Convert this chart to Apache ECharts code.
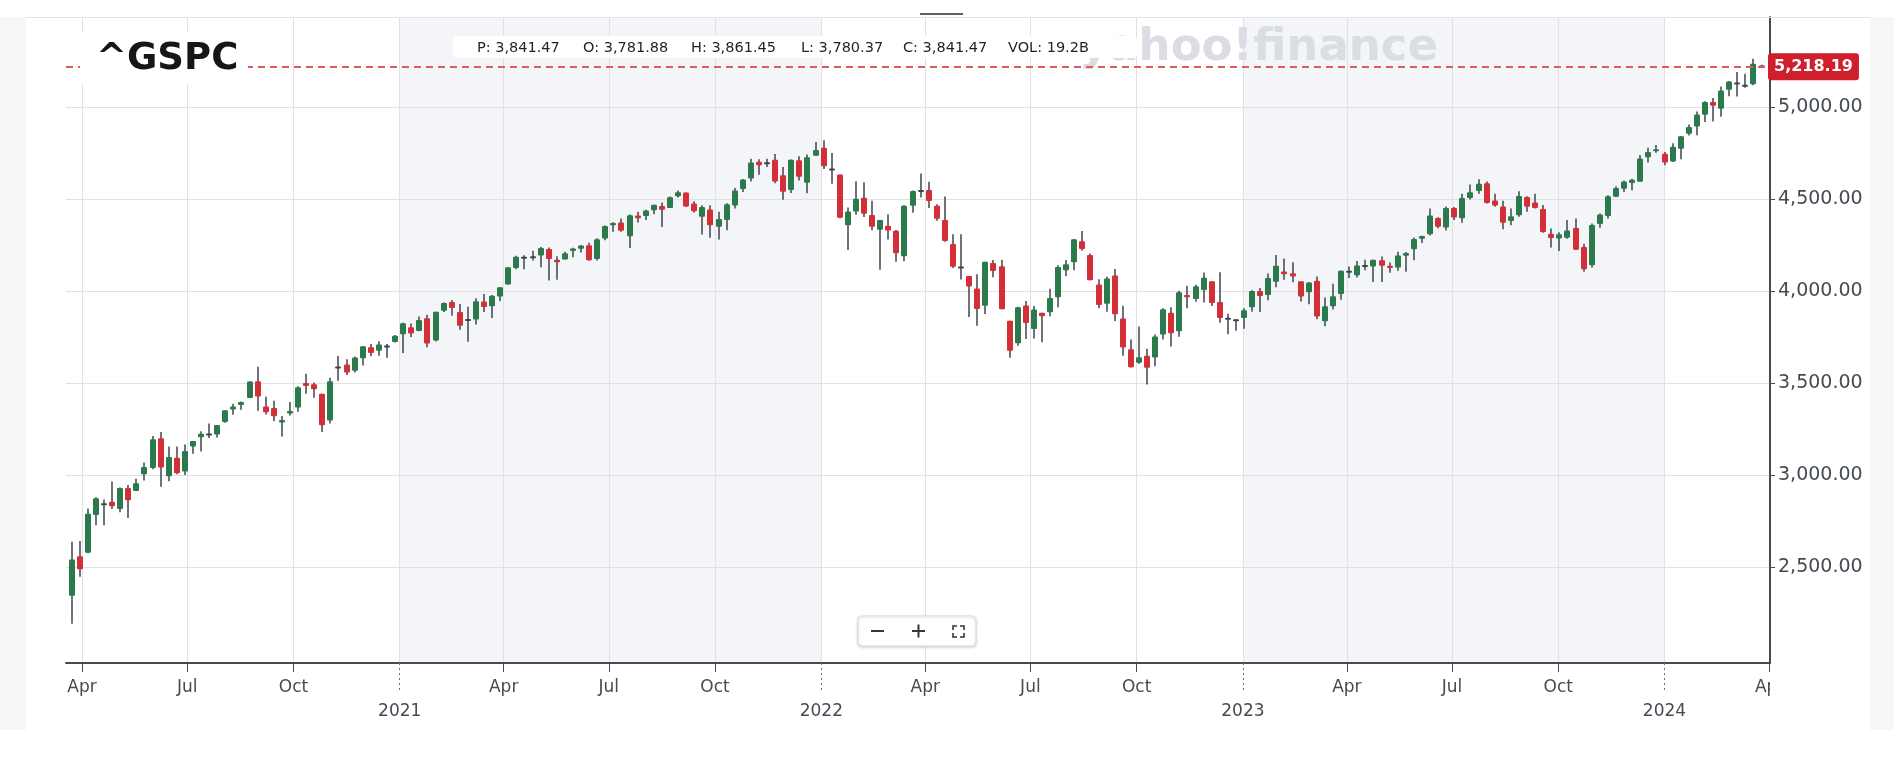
<!DOCTYPE html>
<html>
<head>
<meta charset="utf-8">
<script src="https://cdn.jsdelivr.net/npm/echarts@6/dist/echarts.min.js"></script>
<style>
html,body{margin:0;padding:0;background:#ffffff;}
#chart{width:1894px;height:758px;}
</style>
</head>
<body>
<div id="chart"></div>
<script>
// ---------- DATA (weekly ^GSPC candles, week start dates) ----------
const weeks = [
 '2020-03-23','2020-03-30','2020-04-06','2020-04-13','2020-04-20','2020-04-27','2020-05-04','2020-05-11','2020-05-18','2020-05-25',
 '2020-06-01','2020-06-08','2020-06-15','2020-06-22','2020-06-29','2020-07-06','2020-07-13','2020-07-20','2020-07-27','2020-08-03',
 '2020-08-10','2020-08-17','2020-08-24','2020-08-31','2020-09-07','2020-09-14','2020-09-21','2020-09-28','2020-10-05','2020-10-12',
 '2020-10-19','2020-10-26','2020-11-02','2020-11-09','2020-11-16','2020-11-23','2020-11-30','2020-12-07','2020-12-14','2020-12-21',
 '2020-12-28',
 '2021-01-04','2021-01-11','2021-01-18','2021-01-25','2021-02-01','2021-02-08','2021-02-15','2021-02-22','2021-03-01','2021-03-08',
 '2021-03-15','2021-03-22','2021-03-29','2021-04-05','2021-04-12','2021-04-19','2021-04-26','2021-05-03','2021-05-10','2021-05-17',
 '2021-05-24','2021-05-31','2021-06-07','2021-06-14','2021-06-21','2021-06-28','2021-07-05','2021-07-12','2021-07-19','2021-07-26',
 '2021-08-02','2021-08-09','2021-08-16','2021-08-23','2021-08-30','2021-09-06','2021-09-13','2021-09-20','2021-09-27','2021-10-04',
 '2021-10-11','2021-10-18','2021-10-25','2021-11-01','2021-11-08','2021-11-15','2021-11-22','2021-11-29','2021-12-06','2021-12-13',
 '2021-12-20','2021-12-27',
 '2022-01-03','2022-01-10','2022-01-17','2022-01-24','2022-01-31','2022-02-07','2022-02-14','2022-02-21','2022-02-28','2022-03-07',
 '2022-03-14','2022-03-21','2022-03-28','2022-04-04','2022-04-11','2022-04-18','2022-04-25','2022-05-02','2022-05-09','2022-05-16',
 '2022-05-23','2022-05-30','2022-06-06','2022-06-13','2022-06-20','2022-06-27','2022-07-04','2022-07-11','2022-07-18','2022-07-25',
 '2022-08-01','2022-08-08','2022-08-15','2022-08-22','2022-08-29','2022-09-05','2022-09-12','2022-09-19','2022-09-26','2022-10-03',
 '2022-10-10','2022-10-17','2022-10-24','2022-10-31','2022-11-07','2022-11-14','2022-11-21','2022-11-28','2022-12-05','2022-12-12',
 '2022-12-19','2022-12-26',
 '2023-01-02','2023-01-09','2023-01-16','2023-01-23','2023-01-30','2023-02-06','2023-02-13','2023-02-20','2023-02-27','2023-03-06',
 '2023-03-13','2023-03-20','2023-03-27','2023-04-03','2023-04-10','2023-04-17','2023-04-24','2023-05-01','2023-05-08','2023-05-15',
 '2023-05-22','2023-05-29','2023-06-05','2023-06-12','2023-06-19','2023-06-26','2023-07-03','2023-07-10','2023-07-17','2023-07-24',
 '2023-07-31','2023-08-07','2023-08-14','2023-08-21','2023-08-28','2023-09-04','2023-09-11','2023-09-18','2023-09-25','2023-10-02',
 '2023-10-09','2023-10-16','2023-10-23','2023-10-30','2023-11-06','2023-11-13','2023-11-20','2023-11-27','2023-12-04','2023-12-11',
 '2023-12-18','2023-12-25',
 '2024-01-01','2024-01-08','2024-01-15','2024-01-22','2024-01-29','2024-02-05','2024-02-12','2024-02-19','2024-02-26','2024-03-04',
 '2024-03-11','2024-03-18','2024-03-25'
];
const opens = [
 2344.44,2558.98,2578.28,2782.46,2845.62,2854.65,2815.01,2930.19,2913.86,3004.08,
 3038.78,3199.92,2993.76,3094.42,3018.59,3155.29,3205.08,3224.29,3219.84,3288.26,
 3356.04,3380.86,3418.09,3509.73,3371.88,3363.56,3285.57,3333.90,3367.27,3500.02,
 3493.50,3441.42,3296.20,3583.04,3600.16,3566.82,3634.18,3694.73,3675.27,3694.03,
 3723.03,
 3764.61,3803.14,3781.88,3851.68,3731.17,3892.59,3939.61,3885.55,3842.51,3844.39,
 3942.96,3916.48,3969.31,4034.44,4124.71,4179.80,4185.03,4191.98,4228.29,4169.92,
 4170.16,4216.52,4229.34,4248.31,4173.40,4284.90,4356.46,4372.41,4296.40,4409.58,
 4406.86,4437.77,4461.65,4450.29,4513.76,4535.38,4474.81,4402.95,4442.12,4348.84,
 4385.44,4463.72,4553.69,4610.62,4701.48,4689.30,4712.00,4628.75,4548.37,4710.30,
 4587.90,4733.99,
 4778.14,4655.34,4632.24,4356.32,4431.79,4505.75,4412.61,4332.74,4354.17,4327.01,
 4188.82,4462.40,4541.09,4547.97,4462.64,4385.63,4255.34,4130.61,4081.27,4013.02,
 3919.42,4151.09,4134.72,3838.15,3715.31,3920.76,3792.61,3880.94,3883.79,3965.72,
 4112.38,4155.93,4269.37,4195.08,4034.58,3930.89,4083.67,3849.91,3682.72,3609.78,
 3647.51,3638.65,3764.05,3881.85,3780.71,3977.97,3956.23,4005.36,4052.02,3939.29,
 3853.79,3843.34,
 3853.29,3910.82,3999.28,3978.14,4049.27,4105.35,4096.62,4052.35,3992.36,4055.15,
 3835.12,3917.47,3982.93,4102.20,4085.20,4137.17,4132.07,4166.79,4136.98,4126.65,
 4190.78,4226.71,4282.99,4308.32,4396.11,4344.84,4450.48,4394.23,4505.30,4543.39,
 4584.82,4491.58,4458.13,4380.28,4411.55,4510.06,4480.98,4445.41,4310.62,4284.52,
 4289.02,4342.37,4238.72,4139.39,4364.27,4406.66,4511.70,4554.86,4586.23,4593.39,
 4725.58,4758.86,
 4745.20,4703.70,4772.35,4853.42,4892.95,4957.19,5026.83,4989.32,5093.00,5130.99,
 5111.96,5123.31,5219.52
];
const highs = [
 2637.01,2641.39,2818.57,2879.22,2867.01,2964.42,2932.16,2945.82,2980.29,3068.67,
 3211.72,3233.13,3155.53,3155.53,3165.81,3184.15,3238.28,3279.32,3272.17,3352.54,
 3387.89,3399.96,3509.23,3588.11,3425.55,3402.93,3320.31,3397.18,3482.34,3549.85,
 3502.42,3441.42,3529.05,3645.99,3628.51,3644.31,3699.20,3712.39,3726.70,3711.24,
 3760.20,
 3826.69,3823.60,3861.45,3870.90,3886.83,3937.23,3950.43,3928.65,3914.50,3960.27,
 3983.87,3978.19,4020.63,4129.48,4191.31,4194.17,4218.78,4238.04,4236.39,4188.72,
 4213.42,4233.93,4249.74,4261.66,4286.12,4355.43,4372.87,4393.68,4415.18,4429.97,
 4440.82,4468.00,4480.26,4513.33,4545.85,4535.38,4486.87,4465.40,4465.40,4429.97,
 4475.82,4559.67,4608.08,4718.50,4714.92,4717.75,4743.83,4672.95,4713.57,4731.99,
 4740.74,4808.93,
 4818.62,4748.83,4632.24,4453.23,4595.31,4590.03,4489.55,4385.34,4416.78,4331.17,
 4465.40,4546.03,4637.30,4593.45,4471.00,4512.94,4308.45,4307.66,4081.27,4090.72,
 4158.49,4168.34,4168.78,3838.15,3913.65,3945.86,3918.50,3880.94,4012.44,4140.15,
 4167.66,4280.47,4325.28,4203.04,4062.99,4076.81,4119.28,3920.00,3736.74,3806.91,
 3685.41,3762.79,3905.42,3911.79,4001.48,4028.84,4034.02,4100.51,4052.45,4100.96,
 3876.00,3846.65,
 3906.00,4003.95,4015.39,4094.21,4195.44,4176.54,4156.00,4052.35,4048.00,4078.49,
 3964.46,4039.49,4110.75,4133.13,4163.19,4169.48,4170.06,4186.92,4154.28,4212.91,
 4212.00,4290.67,4299.50,4448.47,4400.15,4458.48,4456.46,4527.76,4578.43,4607.07,
 4594.22,4527.37,4490.33,4447.21,4541.25,4514.29,4527.37,4466.36,4338.51,4319.00,
 4385.46,4393.57,4255.84,4365.98,4421.17,4520.12,4568.43,4599.39,4609.23,4738.57,
 4778.01,4793.30,
 4754.33,4802.40,4842.07,4903.68,4975.29,5030.06,5048.39,5111.06,5140.33,5189.26,
 5179.14,5261.10,5229.09
];
const lows = [
 2191.86,2447.49,2574.57,2727.10,2727.10,2815.00,2797.85,2766.64,2913.86,2969.75,
 3031.54,2936.87,2965.66,3004.63,3000.10,3115.66,3127.66,3200.68,3204.13,3284.53,
 3327.24,3354.69,3418.09,3349.63,3329.27,3292.40,3209.45,3323.69,3344.29,3441.42,
 3419.93,3233.94,3279.74,3511.91,3543.84,3556.69,3594.39,3645.18,3648.11,3636.48,
 3720.14,
 3662.71,3749.62,3780.37,3694.12,3725.62,3884.94,3865.10,3789.54,3723.34,3818.04,
 3885.73,3853.50,3944.35,4034.44,4118.38,4118.38,4165.87,4128.59,4056.88,4061.41,
 4170.16,4183.12,4208.69,4164.40,4165.35,4274.67,4321.34,4321.41,4233.13,4371.75,
 4385.47,4416.17,4347.35,4450.29,4507.29,4456.43,4425.54,4305.91,4288.52,4278.94,
 4329.92,4447.47,4537.36,4595.06,4630.86,4672.78,4585.43,4495.12,4532.42,4600.22,
 4531.10,4733.99,
 4662.74,4582.24,4395.34,4222.62,4414.02,4401.41,4329.86,4114.65,4279.54,4157.87,
 4161.72,4424.30,4507.57,4450.04,4381.34,4267.62,4124.28,4062.51,3858.87,3810.32,
 3875.13,4073.85,3900.16,3636.87,3702.73,3738.67,3742.06,3721.56,3863.16,3910.74,
 4079.81,4112.09,4218.70,4057.66,3906.21,3886.75,3837.08,3647.47,3584.13,3604.17,
 3491.58,3590.83,3735.61,3698.15,3750.59,3906.54,3940.79,3937.65,3918.39,3827.28,
 3764.49,3783.22,
 3794.33,3887.60,3885.54,3949.06,4020.63,4060.79,4047.00,3943.08,3928.16,3846.32,
 3808.86,3899.00,3951.53,4069.84,4072.55,4113.00,4048.28,4048.28,4098.92,4109.00,
 4103.98,4166.15,4261.07,4301.00,4341.00,4328.08,4385.05,4371.00,4497.00,4528.56,
 4474.55,4457.92,4335.31,4356.29,4403.00,4430.00,4448.00,4316.49,4235.55,4216.45,
 4283.79,4223.03,4103.78,4127.90,4343.00,4393.00,4510.36,4537.24,4546.50,4593.39,
 4697.00,4751.00,
 4682.11,4699.82,4714.82,4844.05,4845.15,4918.09,4920.31,4946.00,5057.29,5056.82,
 5104.35,5117.50,5216.09
];
const closes = [
 2541.47,2488.65,2789.82,2874.56,2836.74,2830.71,2929.80,2863.70,2955.45,3044.31,
 3193.93,3041.31,3097.74,3009.05,3130.01,3185.04,3224.73,3215.63,3271.12,3351.28,
 3372.85,3397.16,3508.01,3426.96,3340.97,3319.47,3298.46,3348.44,3477.13,3483.81,
 3465.39,3269.96,3509.44,3585.15,3557.54,3638.35,3699.12,3663.46,3709.41,3703.06,
 3756.07,
 3824.68,3768.25,3841.47,3714.24,3886.83,3934.83,3906.71,3811.15,3841.94,3943.34,
 3913.10,3974.54,4019.87,4128.80,4185.47,4180.17,4181.17,4232.60,4173.85,4155.86,
 4204.11,4229.89,4247.44,4166.45,4280.70,4352.34,4369.55,4327.16,4411.79,4395.26,
 4436.52,4468.00,4441.67,4509.37,4535.43,4458.58,4432.99,4455.48,4357.04,4391.34,
 4471.37,4544.90,4605.38,4697.53,4682.85,4697.96,4594.62,4538.43,4712.02,4620.64,
 4725.79,4766.18,
 4677.03,4662.85,4397.94,4431.85,4500.53,4418.64,4348.87,4384.65,4328.87,4204.31,
 4463.12,4543.06,4545.86,4488.28,4392.59,4271.78,4131.93,4123.34,4023.89,3901.36,
 4158.24,4108.54,3900.86,3674.84,3911.74,3825.33,3899.38,3863.16,3961.63,4130.29,
 4145.19,4280.15,4228.48,4057.66,3924.26,4067.36,3873.33,3693.23,3585.62,3639.66,
 3583.07,3752.75,3901.06,3770.55,3992.93,3965.34,4026.12,4071.70,3934.38,3852.36,
 3844.82,3839.50,
 3895.08,3999.09,3972.61,4070.56,4136.48,4090.46,4079.09,3970.04,4045.64,3861.59,
 3916.64,3970.99,4109.31,4105.02,4137.64,4133.52,4169.48,4136.25,4124.08,4191.98,
 4205.45,4282.37,4298.86,4409.59,4348.33,4450.38,4398.95,4505.42,4536.34,4582.23,
 4478.03,4464.05,4369.71,4405.71,4515.77,4457.49,4450.32,4320.06,4288.05,4308.50,
 4327.78,4224.16,4117.37,4358.34,4415.24,4514.02,4559.34,4594.63,4604.37,4719.19,
 4754.63,4769.83,
 4697.24,4783.83,4839.81,4890.97,4958.61,5026.61,5005.57,5088.80,5137.08,5123.69,
 5117.09,5234.18,5218.19
];
const priceTicks = [2500, 3000, 3500, 4000, 4500, 5000];
const quarterTicks = ['2020-04-01','2020-07-01','2020-10-01','2021-04-01','2021-07-01','2021-10-01',
  '2022-04-01','2022-07-01','2022-10-01','2023-04-01','2023-07-01','2023-10-01','2024-04-01'];
const yearTicks = ['2021-01-01','2022-01-01','2023-01-01','2024-01-01'];
const shadedYears = [['2021-01-01','2022-01-01'], ['2023-01-01','2024-01-01']];
const lastPrice = 5218.19;
const symbolName = '^GSPC';
const infoLabels = ['P: 3,841.47', 'O: 3,781.88', 'H: 3,861.45', 'L: 3,780.37', 'C: 3,841.47', 'VOL: 19.2B'];
const xRange = ['2020-03-18T02:00:00Z', '2024-04-01T08:00:00Z'];
const yRange = [1979, 5488];

// ---------- BUILD ----------
const toTs = s => Date.parse(s.length === 10 ? s + 'T00:00:00Z' : s);
const MONTHS = ['Jan','Feb','Mar','Apr','May','Jun','Jul','Aug','Sep','Oct','Nov','Dec'];
const candleData = weeks.map((w, i) => [toTs(w), opens[i], closes[i], lows[i], highs[i]]);
const quarterTs = quarterTicks.map(toTs);
const yearTs = yearTicks.map(toTs);
const gridXs = quarterTicks.slice(0, -1).concat(yearTicks).map(toTs);
const fmtPrice = v => Number(v).toLocaleString('en-US', {minimumFractionDigits: 2, maximumFractionDigits: 2});

const GREEN = '#2a7a4b', RED = '#d42e37', WICK = '#3e444b';
const AX = '#454b52';
const FONT = 'DejaVu Sans';

function renderCandle(params, api) {
  const x = api.value(0);
  const o = api.value(1), c = api.value(2), l = api.value(3), h = api.value(4);
  const pO = api.coord([x, o]), pC = api.coord([x, c]);
  const pL = api.coord([x, l]), pH = api.coord([x, h]);
  const cx = Math.round(pO[0]);
  const top = Math.min(pO[1], pC[1]), bot = Math.max(pO[1], pC[1]);
  const bw = 6;
  const flat = bot - top < 1.8;
  return {
    type: 'group',
    children: [
      {type: 'rect', shape: {x: cx - 0.75, y: pH[1], width: 1.5, height: pL[1] - pH[1]}, style: {fill: WICK}},
      {type: 'rect',
       shape: {x: cx - bw / 2, y: flat ? (top + bot) / 2 - 1 : top, width: bw, height: flat ? 2 : bot - top, r: 1},
       style: {fill: flat ? WICK : (c >= o ? GREEN : RED)}}
    ]
  };
}

const chart = echarts.init(document.getElementById('chart'), null, {renderer: 'canvas'});

const graphics = [
  {type: 'rect', z: 0, silent: true, shape: {x: 0, y: 17, width: 26, height: 713}, style: {fill: '#f6f6f7'}},
  {type: 'rect', z: 0, silent: true, shape: {x: 1870, y: 17, width: 24, height: 713}, style: {fill: '#f6f6f7'}},
  {type: 'line', z: 10, silent: true, shape: {x1: 26, y1: 17.5, x2: 1870, y2: 17.5}, style: {stroke: '#e1e3e7', lineWidth: 1}},
  {type: 'rect', z: 10, silent: true, shape: {x: 920, y: 13, width: 43, height: 2}, style: {fill: '#5f6368'}},
  // watermark
  {type: 'text', z: 1.5, silent: true, x: 1438, y: 48,
   style: {text: 'yahoo!finance', fill: '#dadde3', fontFamily: FONT, fontWeight: 'bold', fontSize: 45, align: 'right', verticalAlign: 'middle'}},
  // symbol title
  {type: 'rect', z: 10, silent: true, shape: {x: 80, y: 32, width: 168, height: 52, r: 4}, style: {fill: '#ffffff'}},
  {type: 'text', z: 11, silent: true, x: 96, y: 59,
   style: {text: symbolName, fill: '#141618', fontFamily: FONT, fontWeight: 'bold', fontSize: 37, align: 'left', verticalAlign: 'middle'}},
  // info box
  {type: 'rect', z: 10, silent: true, shape: {x: 453, y: 36, width: 684, height: 22, r: 4}, style: {fill: '#ffffff'}},
  // cover for clipped last month label
  {type: 'rect', z: 20, silent: true, shape: {x: 1770, y: 675, width: 99, height: 26}, style: {fill: '#ffffff'}},
  // zoom controls
  {type: 'rect', z: 10, silent: true, shape: {x: 858, y: 616, width: 118, height: 30, r: 4},
   style: {fill: '#ffffff', stroke: '#dcdde0', lineWidth: 1, shadowBlur: 3, shadowOffsetY: 1, shadowColor: 'rgba(0,0,0,0.18)'}},
  {type: 'rect', z: 11, silent: true, shape: {x: 871, y: 630, width: 13, height: 2}, style: {fill: '#34383d'}},
  {type: 'rect', z: 11, silent: true, shape: {x: 912, y: 630, width: 13, height: 2}, style: {fill: '#34383d'}},
  {type: 'rect', z: 11, silent: true, shape: {x: 917.5, y: 624.5, width: 2, height: 13}, style: {fill: '#34383d'}},
  {type: 'polyline', z: 11, silent: true, shape: {points: [[953, 630], [953, 626], [957, 626]]}, style: {stroke: '#34383d', lineWidth: 1.6, fill: null}},
  {type: 'polyline', z: 11, silent: true, shape: {points: [[960, 626], [964, 626], [964, 630]]}, style: {stroke: '#34383d', lineWidth: 1.6, fill: null}},
  {type: 'polyline', z: 11, silent: true, shape: {points: [[953, 633], [953, 637], [957, 637]]}, style: {stroke: '#34383d', lineWidth: 1.6, fill: null}},
  {type: 'polyline', z: 11, silent: true, shape: {points: [[960, 637], [964, 637], [964, 633]]}, style: {stroke: '#34383d', lineWidth: 1.6, fill: null}}
];
const infoX = [477, 583, 691, 801, 903, 1008];
infoLabels.forEach((t, i) => {
  graphics.push({type: 'text', z: 11, silent: true, x: infoX[i], y: 48.5,
    style: {text: t, fill: '#1e2227', fontFamily: FONT, fontSize: 14.5, align: 'left', verticalAlign: 'middle'}});
});

const option = {
  animation: false,
  backgroundColor: '#ffffff',
  grid: {left: 66, right: 124, top: 17, bottom: 95, containLabel: false},
  xAxis: [
    {
      type: 'value', min: toTs(xRange[0]), max: toTs(xRange[1]), position: 'bottom', z: 3,
      axisLine: {show: true, lineStyle: {color: AX, width: 2}},
      axisTick: {show: true, customValues: quarterTs, length: 9, lineStyle: {color: AX, width: 1}},
      axisLabel: {show: true, customValues: quarterTs, margin: 16, color: AX, fontFamily: FONT, fontSize: 17,
                  formatter: v => MONTHS[new Date(v).getUTCMonth()]},
      splitLine: {show: false}
    },
    {
      type: 'value', min: toTs(xRange[0]), max: toTs(xRange[1]), position: 'bottom', z: 3,
      axisLine: {show: false},
      axisTick: {show: true, customValues: yearTs, length: 30, lineStyle: {color: '#6a7077', width: 1, type: [2, 3]}},
      axisLabel: {show: true, customValues: yearTs, margin: 40, color: AX, fontFamily: FONT, fontSize: 17,
                  formatter: v => String(new Date(v).getUTCFullYear())},
      splitLine: {show: false}
    }
  ],
  yAxis: {
    type: 'value', position: 'right', min: yRange[0], max: yRange[1], z: 3,
    axisLine: {show: true, lineStyle: {color: AX, width: 2}},
    axisTick: {show: true, customValues: priceTicks, length: 5, lineStyle: {color: AX, width: 1}},
    axisLabel: {show: true, customValues: priceTicks, margin: 8, color: AX, fontFamily: FONT, fontSize: 19,
                formatter: v => fmtPrice(v)},
    splitLine: {show: false}
  },
  graphic: graphics,
  series: [
    {
      type: 'line', data: [], silent: true, z: 0, xAxisIndex: 0, yAxisIndex: 0,
      markArea: {silent: true, z: 0, itemStyle: {color: '#f3f5f9'},
        data: shadedYears.map(([a, b]) => [{xAxis: toTs(a)}, {xAxis: toTs(b)}])},
      markLine: {silent: true, z: 1, symbol: ['none', 'none'], label: {show: false}, animation: false,
        lineStyle: {color: '#dfe1e5', width: 1, type: 'solid'},
        data: priceTicks.map(v => ({yAxis: v})).concat(gridXs.map(x => ({xAxis: x})))}
    },
    {
      type: 'custom', name: symbolName, z: 2, xAxisIndex: 0, yAxisIndex: 0,
      renderItem: renderCandle, data: candleData, encode: {x: 0, y: [1, 2, 3, 4]}, clip: true
    },
    {
      type: 'line', data: [], silent: true, z: 5, xAxisIndex: 0, yAxisIndex: 0,
      markLine: {silent: true, z: 5, symbol: ['none', 'none'], animation: false,
        lineStyle: {color: '#df5862', width: 1.8, type: [7, 5]},
        label: {show: true, position: 'end', distance: -2, formatter: p => fmtPrice(p.value),
                backgroundColor: '#cf1f2d', borderRadius: 3, padding: [6, 6, 5, 6],
                color: '#ffffff', fontFamily: FONT, fontWeight: 'bold', fontSize: 16},
        data: [{yAxis: lastPrice}]}
    }
  ]
};
chart.setOption(option);
</script>
</body>
</html>
